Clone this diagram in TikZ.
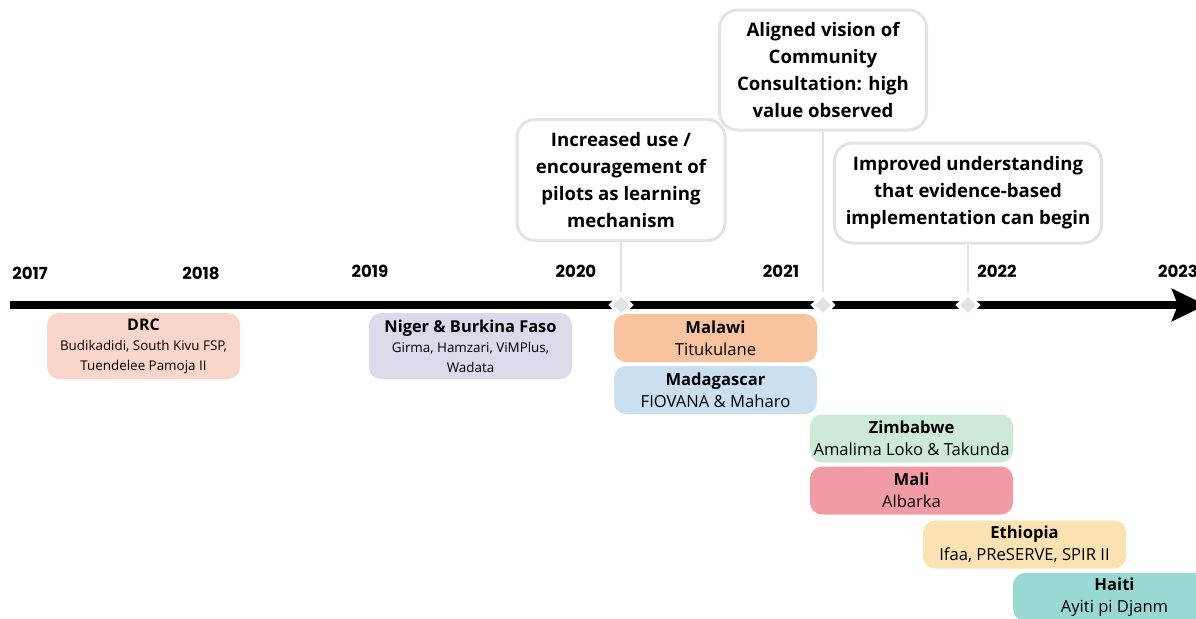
\documentclass[tikz,border=0pt]{standalone}
\usepackage{fontspec}
\setmainfont{Open Sans}
\newfontfamily\yearfont{Poppins}
\usetikzlibrary{arrows.meta,shapes.geometric}
\definecolor{DrcRose}{HTML}{FAD5C9}
\definecolor{NigerLilac}{HTML}{DCD9EB}
\definecolor{MalawiPeach}{HTML}{F8C39E}
\definecolor{MadaBlue}{HTML}{CAE0F0}
\definecolor{ZimGreen}{HTML}{CDEAD7}
\definecolor{MaliPink}{HTML}{F39BA5}
\definecolor{EthSand}{HTML}{FAE2B2}
\definecolor{HaitiTeal}{HTML}{98DAD3}
\colorlet{CalloutGray}{gray!22}

\begin{document}
\begin{tikzpicture}[x=0.5pt,y=-0.5pt,
    callout/.style={draw=CalloutGray, line width=1.5pt, rounded corners=9pt, fill=white,
        align=center, inner sep=2pt, font=\bfseries\fontsize{9.3}{13.5}\selectfont},
    country/.style={rounded corners=6pt, align=center, inner sep=1pt,
        minimum width=101.5pt, minimum height=24pt, font=\fontsize{8.3}{11}\selectfont},
    countrysmall/.style={country, minimum height=33pt, font=\fontsize{6.7}{10}\selectfont},
    yearlabel/.style={font=\yearfont\bfseries\fontsize{8.3}{10}\selectfont},
    milestone/.style={diamond, fill=gray!22, draw=white, line width=1.6pt,
        minimum size=11pt, inner sep=0pt}]
    \useasboundingbox (0,0) rectangle (1196,618);
    \clip (0,0) rectangle (1196,618);

%   timeline
    \coordinate (tstart) at (10,305);
    \coordinate (tend) at (1206,305);
    \draw[line width=4.3pt, arrows = {-Stealth[length=17pt,width=16pt,inset=3pt]}] (tstart) -- (tend);

%   years
    \foreach \x/\y/\yr in {30/273/2017, 201/273/2018, 370/271/2019, 576/271/2020,
                           781/271/2021, 997/271/2022, 1178/271/2023} {
        \node[yearlabel] (y\yr) at (\x,\y) {\yr};
    }

%   callouts
    \node[callout, minimum width=104pt, minimum height=60.5pt] (c1) at (621,180)
        {Increased use /\\encouragement of\\pilots as learning\\mechanism};
    \node[callout, minimum width=103.5pt, minimum height=60pt] (c2) at (823,70)
        {Aligned vision of\\Community\\Consultation: high\\value observed};
    \node[callout, minimum width=133.5pt, minimum height=50pt] (c3) at (968,193)
        {Improved understanding\\that evidence-based\\implementation can begin};

    \node[milestone] (d1) at (621,305) {};
    \node[milestone] (d2) at (823,305) {};
    \node[milestone] (d3) at (968,305) {};

    \draw[CalloutGray, line width=1pt] (c1.south) -- (d1.north);
    \draw[CalloutGray, line width=1pt] (c2.south) -- (d2.north);
    \draw[CalloutGray, line width=1pt] (c3.south) -- (d3.north);

%   countries
    \node[countrysmall, fill=DrcRose, minimum width=96.5pt] (drc) at (143.5,346)
        {{\fontsize{8}{10}\selectfont\bfseries DRC}\\Budikadidi, South Kivu FSP,\\Tuendelee Pamoja II};
    \node[countrysmall, fill=NigerLilac] (niger) at (470.5,346)
        {{\fontsize{8.2}{10}\selectfont\bfseries Niger \& Burkina Faso}\\Girma, Hamzari, ViMPlus,\\Wadata};
    \node[country, fill=MalawiPeach] (malawi) at (715.5,338) {\textbf{Malawi}\\Titukulane};
    \node[country, fill=MadaBlue] (madagascar) at (715.5,390) {\textbf{Madagascar}\\FIOVANA \& Maharo};
    \node[country, fill=ZimGreen] (zimbabwe) at (911.5,438.5) {\textbf{Zimbabwe}\\Amalima Loko \& Takunda};
    \node[country, fill=MaliPink] (mali) at (911.5,490.5) {\textbf{Mali}\\Albarka};
    \node[country, fill=EthSand] (ethiopia) at (1024.5,544.5) {\textbf{Ethiopia}\\Ifaa, PReSERVE, SPIR II};
    \node[country, fill=HaitiTeal] (haiti) at (1114.5,597) {\textbf{Haiti}\\Ayiti pi Djanm};
\end{tikzpicture}
\end{document}
